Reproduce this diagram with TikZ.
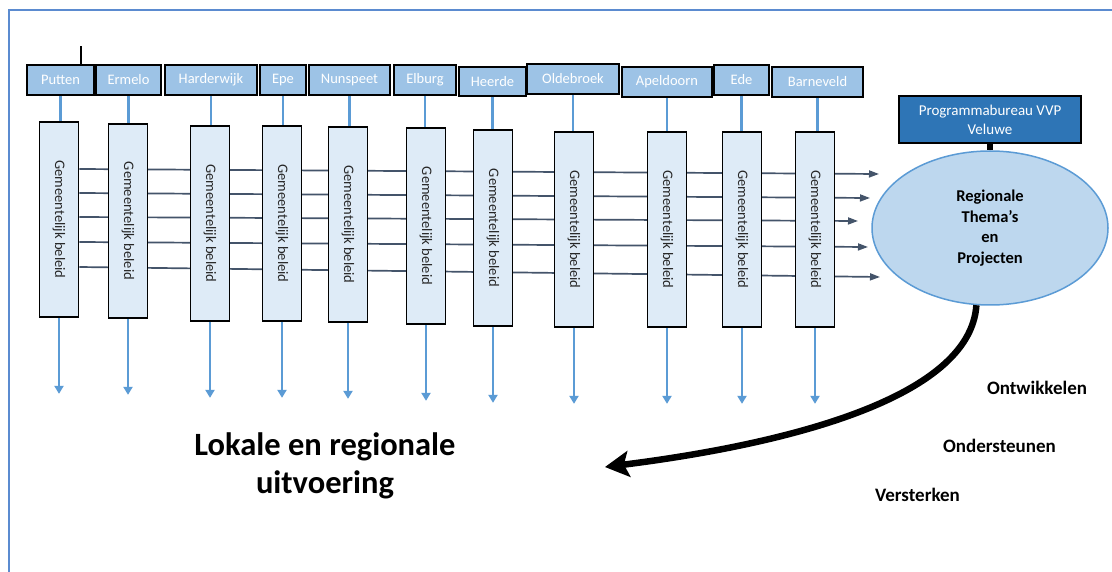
\documentclass[tikz,border=0pt]{standalone}
\usepackage{fontspec}
\setmainfont{Carlito}
\usetikzlibrary{arrows.meta,calc,shapes.geometric}
\pgfdeclarelayer{bg}
\pgfsetlayers{bg,main}
\definecolor{muniblue}{HTML}{9DC3E6}
\definecolor{paleblue}{HTML}{DEEBF7}
\definecolor{linkblue}{HTML}{5B9BD5}
\definecolor{ellfill}{HTML}{BDD7EE}
\definecolor{progblue}{HTML}{2E75B6}
\definecolor{framecol}{HTML}{5B8BD0}
\definecolor{slate}{HTML}{44546A}
\begin{document}
\begin{tikzpicture}[x=1pt,y=-1pt,
  muni/.style={draw=black,line width=1.7pt,fill=muniblue,text=white,
    font=\fontsize{14.5}{16}\selectfont,inner sep=0pt,minimum height=30pt},
  vbox/.style={draw=black,line width=1.7pt,fill=paleblue,inner sep=0pt,
    minimum width=39pt,text=black!85,font=\fontsize{14.5}{16}\selectfont},
  link/.style={draw=linkblue,line width=2.8pt},
  downarrow/.style={draw=linkblue,line width=2.6pt,-{Triangle[width=9pt,length=8pt]}},
  flow/.style={draw=slate,line width=1.7pt,-{Triangle[width=7pt,length=10pt]}},
  boldlbl/.style={font=\bfseries\fontsize{19}{22}\selectfont,inner sep=0pt}]
\useasboundingbox (0,0) rectangle (1112,572);
\begin{pgfonlayer}{bg}
\fill[white] (0,0) rectangle (1112,572);
\end{pgfonlayer}
\draw[framecol,line width=2.4pt] (9,572) -- (9,10) -- (1112,10);

% municipality boxes
\node[muni,minimum width=67pt] (p1) at (60.5,80) {Putten};
\node[muni,minimum width=65pt] (p2) at (128.5,80) {Ermelo};
\node[muni,minimum width=92pt] (p3) at (211,80) {Harderwijk};
\node[muni,minimum width=46pt] (p4) at (283,80) {Epe};
\node[muni,minimum width=81pt] (p5) at (349.5,80) {Nunspeet};
\node[muni,minimum width=62pt] (p6) at (425,80) {Elburg};
\node[muni,minimum width=67pt,minimum height=29pt] (p7) at (492.5,81.5) {Heerde};
\node[muni,minimum width=92pt] (p8) at (573,79) {Oldebroek};
\node[muni,minimum width=90pt] (p9) at (667,82) {Apeldoorn};
\node[muni,minimum width=55pt] (p10) at (741.5,80) {Ede};
\node[muni,minimum width=91pt] (p11) at (817.5,82) {Barneveld};

\coordinate (tick) at (81,46);
\draw[black,line width=1.6pt] (p1.north -| tick) -- (tick);

% vertical policy boxes
\newcommand{\gb}{\rotatebox{-90}{Gemeentelijk beleid}}
\node[vbox,minimum height=195pt] (v1) at (59,219.5) {\gb};
\node[vbox,minimum height=194pt] (v2) at (128,221) {\gb};
\node[vbox,minimum height=195pt] (v3) at (210,223.5) {\gb};
\node[vbox,minimum height=195pt] (v4) at (282,223.5) {\gb};
\node[vbox,minimum height=195pt] (v5) at (348,224.5) {\gb};
\node[vbox,minimum height=196pt] (v6) at (426,226) {\gb};
\node[vbox,minimum height=196pt] (v7) at (493,228) {\gb};
\node[vbox,minimum height=195pt] (v8) at (574,229.5) {\gb};
\node[vbox,minimum height=195pt] (v9) at (667,229.5) {\gb};
\node[vbox,minimum height=195pt] (v10) at (742,229.5) {\gb};
\node[vbox,minimum height=195pt] (v11) at (815,229.5) {\gb};

\foreach \i in {1,...,11}{
  \draw[link] (p\i.south) -- (p\i.south |- v\i.north);
  \draw[downarrow] (v\i.south) -- ++(0,76);
}

% ellipse and programme office
\node[ellipse,draw=linkblue,line width=1.5pt,fill=ellfill,minimum width=236pt,
  minimum height=154pt,align=center,inner sep=0pt,
  font=\bfseries\fontsize{16.5}{20.5}\selectfont] (ell) at (990,228)
  {Regionale\\Thema’s\\en\\Projecten};
\node[draw=black,line width=1.7pt,fill=progblue,text=white,minimum width=182pt,
  minimum height=47pt,align=center,inner sep=0pt,
  font=\fontsize{15}{19}\selectfont] (prog) at (990,119.5)
  {Programmabureau VVP\\Veluwe};
\draw[black,line width=6.5pt] (prog.south) -- (prog.south |- ell.north);

% horizontal flows behind the boxes
\coordinate (hy1) at (0,169);
\coordinate (hy2) at (0,193);
\coordinate (hy3) at (0,217);
\coordinate (hy4) at (0,242);
\coordinate (hy5) at (0,267);
\coordinate (he1) at (879,174);
\coordinate (he2) at (870,198);
\coordinate (he3) at (858,221);
\coordinate (he4) at (868,247);
\coordinate (he5) at (880,277);
\begin{pgfonlayer}{bg}
\foreach \k in {1,...,5}{
  \draw[flow] (v1.east |- hy\k) -- (he\k);
}
\end{pgfonlayer}

% curved arrow
\coordinate (tipend) at (605,467);
\draw[black,line width=6.5pt,-{Stealth[length=24pt,width=26pt,inset=5pt]}]
  (ell.260) .. controls (970,400) and (780,445) .. (tipend);

\node[boldlbl] (ont) at (1037,388) {Ontwikkelen};
\node[boldlbl] (ond) at (999.5,446) {Ondersteunen};
\node[boldlbl] (ver) at (917.5,495) {Versterken};

\node[align=center,inner sep=0pt,font=\bfseries\fontsize{32.5}{38}\selectfont]
  (lok) at (325,466) {Lokale en regionale\\uitvoering};
\end{tikzpicture}
\end{document}
